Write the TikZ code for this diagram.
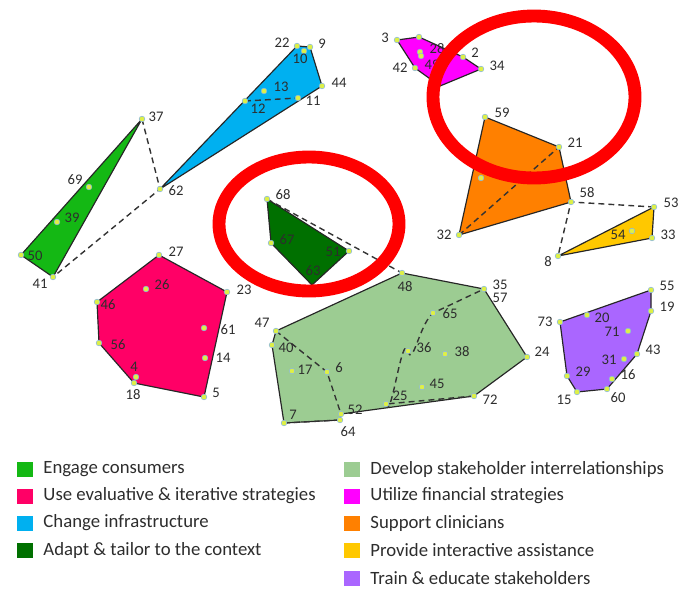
\documentclass[tikz,border=0pt]{standalone}
\usepackage{fontspec}
\setmainfont{Carlito}
\usetikzlibrary{positioning,backgrounds}
\usepackage{xcolor}
\definecolor{cEngage}{RGB}{20,184,20}
\definecolor{cEval}{RGB}{255,0,102}
\definecolor{cInfra}{RGB}{0,176,240}
\definecolor{cAdapt}{RGB}{0,112,0}
\definecolor{cDevelop}{RGB}{156,204,146}
\definecolor{cFinance}{RGB}{255,0,255}
\definecolor{cSupport}{RGB}{255,128,0}
\definecolor{cAssist}{RGB}{255,200,0}
\definecolor{cTrain}{RGB}{170,102,255}
\definecolor{cDot}{RGB}{222,240,70}
\definecolor{cRim}{RGB}{140,185,220}
\definecolor{cText}{RGB}{45,45,45}

\begin{document}
\begin{tikzpicture}[
    x=0.03cm, y=-0.03cm,
    dot/.style={circle, draw=cRim, line width=0.5pt, fill=cDot, inner sep=0pt, minimum size=0.17cm},
    num/.style={inner sep=0pt, text=cText, font=\fontsize{12.5}{14}\selectfont},
    region/.style={draw=black!85, line width=1pt, line join=round},
    link/.style={draw=black!80, line width=1.2pt, dash pattern=on 5pt off 3.5pt},
    ring/.style={draw=red, line width=11pt},
    key/.style={rectangle, inner sep=0pt, minimum width=0.48cm, minimum height=0.45cm},
    keytext/.style={inner sep=0pt, anchor=west, text=cText, font=\fontsize{16}{18}\selectfont}
]
    \useasboundingbox (0,0) rectangle (680,591);

    % Engage consumers
    \node[dot] (p37) at (142,119) {}; \node[num] (l37) at (156,117) {37};
    \node[dot] (p69) at (89,187) {};  \node[num] (l69) at (75,180) {69};
    \node[dot] (p39) at (57,222) {};  \node[num] (l39) at (72,218) {39};
    \node[dot] (p50) at (21,255) {};  \node[num] (l50) at (35,256) {50};
    \node[dot] (p41) at (53,277) {};  \node[num] (l41) at (40,284) {41};

    % Change infrastructure
    \node[dot] (p22) at (297,46) {};  \node[num] (l22) at (282,43) {22};
    \node[dot] (p9) at (310,47) {};   \node[num] (l9) at (322,44) {9};
    \node[dot] (p10) at (304,51) {};  \node[num] (l10) at (300,59) {10};
    \node[dot] (p44) at (322,86) {};  \node[num] (l44) at (339,83) {44};
    \node[dot] (p13) at (264,91) {};  \node[num] (l13) at (281,87) {13};
    \node[dot] (p12) at (245,101) {}; \node[num] (l12) at (258,109) {12};
    \node[dot] (p11) at (298,98) {};  \node[num] (l11) at (313,101) {11};
    \node[dot] (p62) at (160,189) {}; \node[num] (l62) at (176,191) {62};

    % Adapt & tailor to the context
    \node[dot] (p68) at (267,199) {}; \node[num] (l68) at (283,195) {68};
    \node[dot] (p67) at (271,243) {}; \node[num] (l67) at (287,240) {67};
    \node[dot] (p51) at (349,251) {}; \node[num] (l51) at (333,252) {51};
    \coordinate (p63) at (312,285);   \node[num] (l63) at (313,271) {63};

    % Use evaluative & iterative strategies
    \node[dot] (p27) at (159,255) {}; \node[num] (l27) at (176,252) {27};
    \node[dot] (p26) at (146,289) {}; \node[num] (l26) at (162,285) {26};
    \node[dot] (p23) at (227,292) {}; \node[num] (l23) at (244,290) {23};
    \node[dot] (p46) at (97,302) {};  \node[num] (l46) at (108,305) {46};
    \node[dot] (p61) at (204,328) {}; \node[num] (l61) at (228,330) {61};
    \node[dot] (p56) at (99,343) {};  \node[num] (l56) at (118,345) {56};
    \node[dot] (p14) at (205,358) {}; \node[num] (l14) at (223,358) {14};
    \node[dot] (p4) at (136,377) {};  \node[num] (l4) at (134,367) {4};
    \node[dot] (p18) at (134,383) {}; \node[num] (l18) at (133,395) {18};
    \node[dot] (p5) at (204,397) {};  \node[num] (l5) at (216,393) {5};

    % Develop stakeholder interrelationships
    \node[dot] (p47) at (276,331) {}; \node[num] (l47) at (262,323) {47};
    \node[dot] (p40) at (272,345) {}; \node[num] (l40) at (286,348) {40};
    \node[dot] (p17) at (292,371) {}; \node[num] (l17) at (305,370) {17};
    \node[dot] (p6) at (327,372) {};  \node[num] (l6) at (339,368) {6};
    \node[dot] (p52) at (341,414) {}; \node[num] (l52) at (355,410) {52};
    \node[dot] (p64) at (340,420) {}; \node[num] (l64) at (348,432) {64};
    \node[dot] (p7) at (284,423) {};  \node[num] (l7) at (293,415) {7};
    \node[dot] (p48) at (402,273) {}; \node[num] (l48) at (405,287) {48};
    \node[dot] (p35) at (484,289) {}; \node[num] (l35) at (500,285) {35};
    \node[num] (l57) at (500,298) {57};
    \node[dot] (p65) at (433,313) {}; \node[num] (l65) at (450,314) {65};
    \node[dot] (p36) at (408,351) {}; \node[num] (l36) at (424,348) {36};
    \node[dot] (p38) at (445,354) {}; \node[num] (l38) at (462,352) {38};
    \node[dot] (p24) at (527,357) {}; \node[num] (l24) at (542,352) {24};
    \node[dot] (p45) at (422,387) {}; \node[num] (l45) at (437,384) {45};
    \node[dot] (p25) at (386,404) {}; \node[num] (l25) at (400,396) {25};
    \node[dot] (p72) at (474,396) {}; \node[num] (l72) at (490,400) {72};

    % Utilize financial strategies
    \node[dot] (p3) at (397,40) {};   \node[num] (l3) at (385,38) {3};
    \node[dot] (p30) at (419,37) {};
    \node[dot] (p28) at (420,52) {};  \node[num] (l28) at (437,49) {28};
    \node[dot] (p49) at (421,56) {};  \node[num] (l49) at (432,65) {49};
    \node[dot] (p42) at (415,68) {};  \node[num] (l42) at (400,68) {42};
    \node[dot] (p2) at (463,57) {};   \node[num] (l2) at (475,53) {2};
    \node[dot] (p34) at (481,69) {};  \node[num] (l34) at (497,66) {34};
    \coordinate (pm) at (440,86);

    % Support clinicians
    \node[dot] (p59) at (485,117) {}; \node[num] (l59) at (502,113) {59};
    \node[dot] (p21) at (559,147) {}; \node[num] (l21) at (575,143) {21};
    \node[dot] (p58) at (571,202) {}; \node[num] (l58) at (587,193) {58};
    \node[dot] (p32) at (459,235) {}; \node[num] (l32) at (444,235) {32};
    \node[dot] (po) at (481,178) {};

    % Provide interactive assistance
    \node[dot] (p53) at (654,207) {}; \node[num] (l53) at (671,203) {53};
    \node[dot] (p33) at (652,238) {}; \node[num] (l33) at (668,235) {33};
    \node[dot] (p54) at (632,231) {}; \node[num] (l54) at (618,235) {54};
    \node[dot] (p8) at (558,256) {};  \node[num] (l8) at (548,262) {8};

    % Train & educate stakeholders
    \node[dot] (p73) at (560,322) {}; \node[num] (l73) at (545,322) {73};
    \node[dot] (p20) at (587,315) {}; \node[num] (l20) at (602,318) {20};
    \node[dot] (p55) at (651,290) {}; \node[num] (l55) at (667,286) {55};
    \node[dot] (p19) at (651,311) {}; \node[num] (l19) at (667,307) {19};
    \node[dot] (p71) at (628,331) {}; \node[num] (l71) at (612,332) {71};
    \node[dot] (p43) at (637,354) {}; \node[num] (l43) at (653,350) {43};
    \node[dot] (p31) at (624,359) {}; \node[num] (l31) at (609,360) {31};
    \node[dot] (p16) at (612,379) {}; \node[num] (l16) at (628,375) {16};
    \node[dot] (p29) at (567,376) {}; \node[num] (l29) at (583,372) {29};
    \node[dot] (p15) at (577,392) {}; \node[num] (l15) at (564,400) {15};
    \node[dot] (p60) at (607,389) {}; \node[num] (l60) at (618,398) {60};

    % 区域与虚线
    \begin{pgfonlayer}{background}
        \path[region, fill=cEngage] (p37.center) -- (p50.center) -- (p41.center) -- cycle;
        \path[region, fill=cInfra] (p22.center) -- (p9.center) -- (p44.center) -- (p62.center) -- cycle;
        \path[region, fill=cAdapt] (p68.center) -- (p51.center) -- (p63) -- (p67.center) -- cycle;
        \path[region, fill=cEval] (p27.center) -- (p23.center) -- (p5.center) -- (p18.center) -- (p56.center) -- (p46.center) -- cycle;
        \path[region, fill=cDevelop] (p47.center) -- (p48.center) -- (p35.center) -- (p24.center) -- (p72.center) -- (p52.center) -- (p64.center) -- (p7.center) -- (p40.center) -- cycle;
        \path[region, fill=cFinance] (p3.center) -- (p30.center) -- (p2.center) -- (p34.center) -- (pm) -- (p42.center) -- cycle;
        \path[region, fill=cSupport] (p59.center) -- (p21.center) -- (p58.center) -- (p32.center) -- cycle;
        \path[region, fill=cAssist] (p53.center) -- (p33.center) -- (p8.center) -- cycle;
        \path[region, fill=cTrain] (p73.center) -- (p55.center) -- (p19.center) -- (p43.center) -- (p60.center) -- (p15.center) -- (p29.center) -- cycle;

        \draw[link] (p37.center) -- (p62.center) -- (p41.center);
        \draw[link] (p12.center) -- (p11.center);
        \draw[link] (p68.center) -- (p48.center);
        \draw[link] (p32.center) -- (p21.center);
        \draw[link] (p53.center) -- (p58.center) -- (p8.center);
        \draw[link] (p47.center) -- (p6.center) -- (p52.center);
        \draw[link] (p7.center) -- (p64.center);
        \draw[link] (p72.center) -- (p25.center);
        \draw[link] (p25.center) to[out=-78,in=105] (p36.center) to[out=-75,in=220] (p65.center) to[out=25,in=205] (p35.center);
    \end{pgfonlayer}

    % 红色圆圈
    \draw[ring] (534,97) ellipse (101 and 81);
    \draw[ring] (309,224) ellipse (90 and 67);

    % 图例
    \node[key, fill=cEngage] (k1) at (25,469) {};
    \node[keytext, right=0.3cm of k1] (t1) {Engage consumers};
    \node[key, fill=cEval] (k2) at (25,496) {};
    \node[keytext, right=0.3cm of k2] (t2) {Use evaluative \& iterative strategies};
    \node[key, fill=cInfra] (k3) at (25,523) {};
    \node[keytext, right=0.3cm of k3] (t3) {Change infrastructure};
    \node[key, fill=cAdapt] (k4) at (25,550) {};
    \node[keytext, right=0.3cm of k4] (t4) {Adapt \& tailor to the context};

    \node[key, fill=cDevelop] (k5) at (352,469) {};
    \node[keytext, right=0.3cm of k5] (t5) {Develop stakeholder interrelationships};
    \node[key, fill=cFinance] (k6) at (352,496) {};
    \node[keytext, right=0.3cm of k6] (t6) {Utilize financial strategies};
    \node[key, fill=cSupport] (k7) at (352,523) {};
    \node[keytext, right=0.3cm of k7] (t7) {Support clinicians};
    \node[key, fill=cAssist] (k8) at (352,550) {};
    \node[keytext, right=0.3cm of k8] (t8) {Provide interactive assistance};
    \node[key, fill=cTrain] (k9) at (352,578) {};
    \node[keytext, right=0.3cm of k9] (t9) {Train \& educate stakeholders};
\end{tikzpicture}
\end{document}
